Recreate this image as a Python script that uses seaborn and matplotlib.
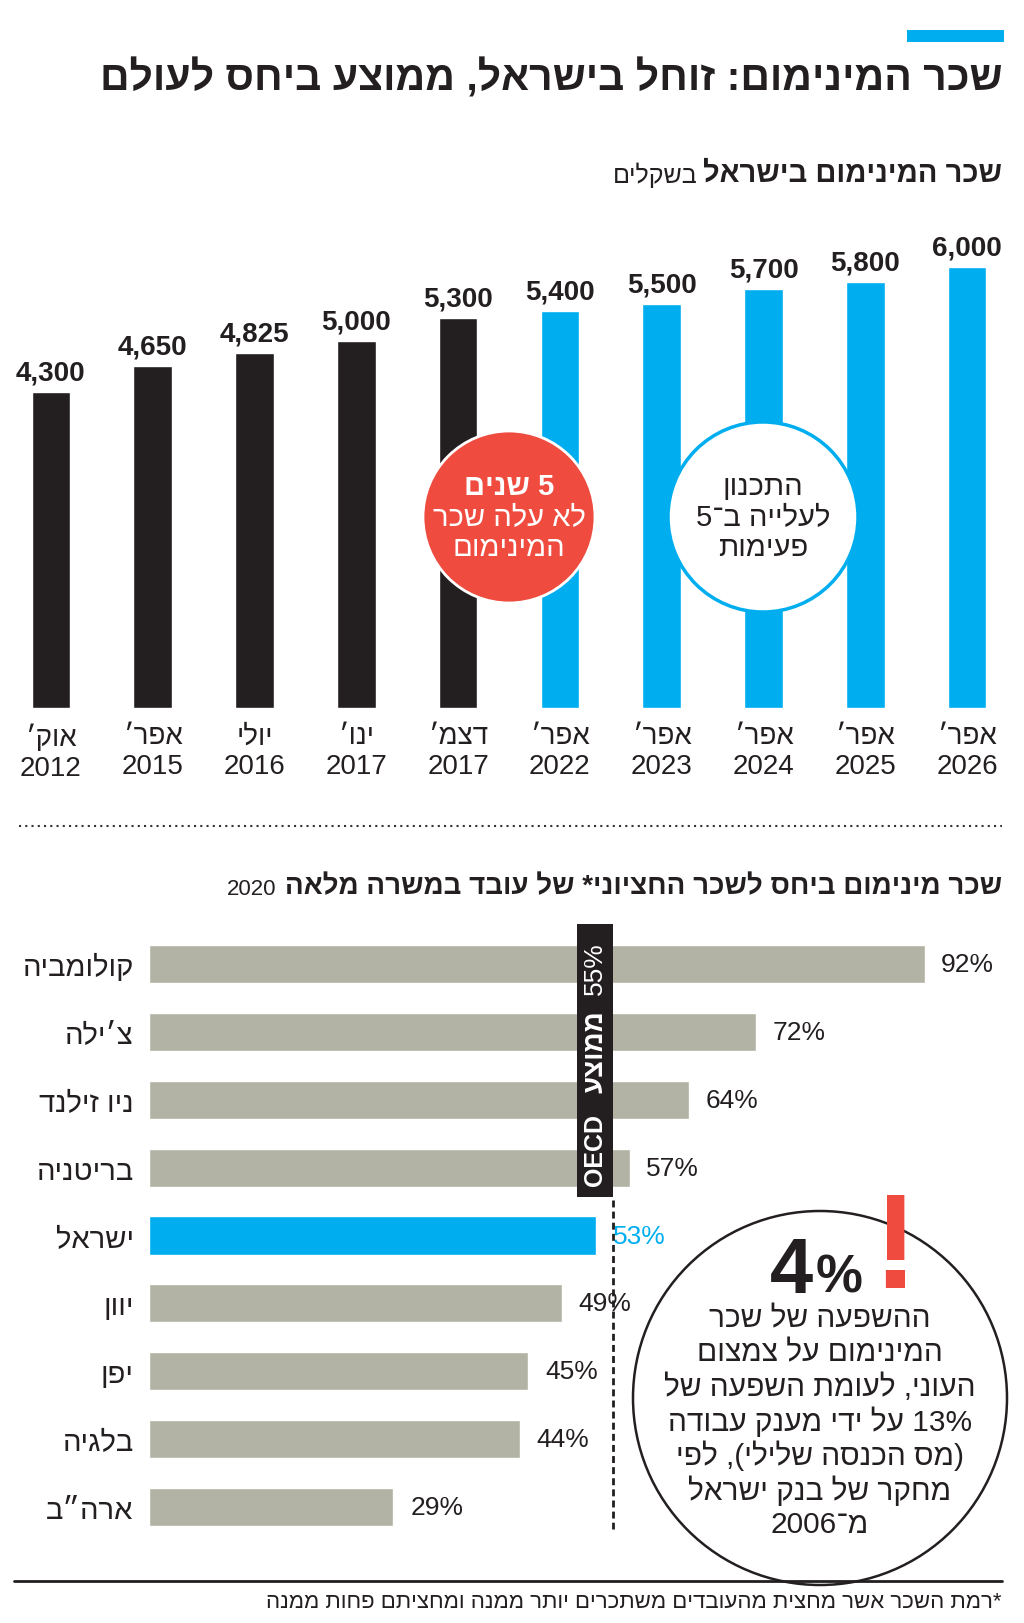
import re
import matplotlib
matplotlib.use("Agg")
import matplotlib.pyplot as plt
from matplotlib.patches import Circle, Rectangle
import pandas as pd
import seaborn as sns

sns.set_theme(style="white")
FONT = ["Liberation Sans Narrow", "Liberation Sans", "DejaVu Sans"]
plt.rcParams["font.family"] = FONT

BLACK = "#231f20"
BLUE = "#00aeef"
RED = "#ef4b3f"
GRAY = "#b2b2a5"

# --- data: minimum wage in Israel (NIS)
months = ["אוק׳", "אפר׳", "יולי", "ינו׳", "דצמ׳", "אפר׳", "אפר׳", "אפר׳", "אפר׳", "אפר׳"]
years = ["2012", "2015", "2016", "2017", "2017", "2022", "2023", "2024", "2025", "2026"]
wages = [4300, 4650, 4825, 5000, 5300, 5400, 5500, 5700, 5800, 6000]
kind = ["past", "past", "past", "past", "past", "plan", "plan", "plan", "plan", "plan"]

# --- data: minimum wage vs median wage, 2020
countries = ["קולומביה", "צ׳ילה", "ניו זילנד", "בריטניה", "ישראל", "יוון", "יפן", "בלגיה", "ארה״ב"]
ratio = [92, 72, 64, 57, 53, 49, 45, 44, 29]
oecd_avg = 55


def heb(s):
    # logical -> visual order for a right-to-left line
    mirror = {"(": ")", ")": "("}
    r = "".join(mirror.get(c, c) for c in s[::-1])
    return re.sub(r"[0-9A-Za-z%][0-9A-Za-z%.,]*", lambda m: m.group(0)[::-1], r)


W, H = 1024, 1624
fig = plt.figure(figsize=(W / 100, H / 100), dpi=100)


def px_axes(x0, y0, x1, y1, **kw):
    return fig.add_axes([x0 / W, 1 - y1 / H, (x1 - x0) / W, (y1 - y0) / H], **kw)


# ---------------- chart 1
ax1 = px_axes(0, 268, 1018, 709)
df1 = pd.DataFrame({"pos": [f"{m} {y}" for m, y in zip(months, years)],
                    "wage": wages, "kind": kind})
sns.barplot(data=df1, x="pos", y="wage", hue="kind", dodge=False, width=0.38,
            palette={"past": BLACK, "plan": BLUE}, legend=False, ax=ax1,
            saturation=1)
ax1.set_xlim(-0.5, 9.5)
ax1.set_ylim(0, 6000)
ax1.set_xlabel("")
ax1.set_ylabel("")
ax1.set_yticks([])
ax1.set_xticks(range(len(months)))
ax1.set_xticklabels([heb(m) + "\n" + y for m, y in zip(months, years)],
                    fontsize=20, color=BLACK, linespacing=1.2)
ax1.tick_params(axis="x", length=0, pad=11)
for p in ax1.patches:
    h = p.get_height()
    if h > 0:
        ax1.annotate(f"{int(h):,}", (p.get_x() + p.get_width() / 2, h),
                     xytext=(0, 9), textcoords="offset points", ha="center",
                     va="baseline", fontsize=20, color=BLACK, fontweight="bold",
                     annotation_clip=False)
sns.despine(ax=ax1, left=True, bottom=True)

# ---------------- chart 2
ax2 = px_axes(149, 931, 992, 1542)
df2 = pd.DataFrame({"country": countries, "ratio": ratio,
                    "is_il": ["il" if c == "ישראל" else "other" for c in countries]})
sns.barplot(data=df2, x="ratio", y="country", hue="is_il", dodge=False, width=0.56,
            palette={"il": BLUE, "other": GRAY}, legend=False, ax=ax2,
            orient="h", saturation=1)
ax2.set_xlim(0, 100)
ax2.set_ylim(len(countries) - 0.5, -0.5)
ax2.set_xlabel("")
ax2.set_ylabel("")
ax2.set_xticks([])
ax2.set_yticks(range(len(countries)))
ax2.set_yticklabels([heb(c) for c in countries], fontsize=21, color=BLACK)
ax2.tick_params(axis="y", length=0, pad=11)
sns.despine(ax=ax2, left=True, bottom=True)
for p in ax2.patches:
    w = p.get_width()
    if w > 0:
        yc = p.get_y() + p.get_height() / 2
        col = BLUE if p.get_facecolor()[2] > 0.8 else BLACK
        ax2.annotate(f"{int(w)}%", (w, yc), xytext=(12, 0), textcoords="offset points",
                     ha="left", va="center", fontsize=19, color=col,
                     annotation_clip=False)

# OECD average marker
ax2.add_patch(Rectangle((oecd_avg - 4.2, -0.59), 4.2, 4.02, fc=BLACK, ec="none",
                        clip_on=False, zorder=4))
bx = oecd_avg - 2.1
ax2.text(bx, 0.05, f"{oecd_avg}%", rotation=90, ha="center", va="center",
         color="white", fontsize=19, zorder=5, clip_on=False)
ax2.text(bx, 1.27, heb("ממוצע"), rotation=90, ha="center", va="center",
         color="white", fontsize=20, fontweight="bold", zorder=5, clip_on=False)
ax2.text(bx, 2.72, "OECD", rotation=90, ha="center", va="center",
         color="white", fontsize=18, fontweight="bold", zorder=5, clip_on=False)
ax2.plot([oecd_avg, oecd_avg], [3.48, 8.32], ls=(0, (2.5, 1.5)), lw=2, color=BLACK,
         clip_on=False, zorder=4)

# ---------------- overlay (titles, bubbles, rules)
ov = fig.add_axes([0, 0, 1, 1], zorder=10)
ov.set_xlim(0, W)
ov.set_ylim(H, 0)
ov.axis("off")
ov.patch.set_alpha(0)

ov.add_patch(Rectangle((907, 31), 97, 12, fc=BLUE, ec="none"))
ov.text(1002, 78, heb("שכר המינימום: זוחל בישראל, ממוצע ביחס לעולם"), ha="right",
        va="center", fontsize=29.5, fontweight="bold", color=BLACK)

t1 = ov.text(1002, 188, heb("שכר המינימום בישראל"), ha="right", va="bottom",
             fontsize=21, fontweight="bold", color=BLACK)
ov.annotate(heb("בשקלים"), xy=(0, 0), xycoords=t1, xytext=(-4, 0),
            textcoords="offset points", ha="right", va="bottom", fontsize=18,
            color=BLACK)

t2 = ov.text(1002, 900, heb("שכר מינימום ביחס לשכר החציוני* של עובד במשרה מלאה"),
             ha="right", va="bottom", fontsize=20, fontweight="bold", color=BLACK)
ov.annotate("2020", xy=(0, 0), xycoords=t2, xytext=(-6, 0),
            textcoords="offset points", ha="right", va="bottom", fontsize=16,
            color=BLACK)

# bubbles on chart 1
ov.add_patch(Circle((509, 518), 86, fc=RED, ec="white", lw=2))
ov.text(509, 487, heb("5 שנים"), ha="center", va="center", fontsize=21,
        fontweight="bold", color="white")
ov.text(509, 518, heb("לא עלה שכר"), ha="center", va="center", fontsize=21,
        color="white")
ov.text(509, 548, heb("המינימום"), ha="center", va="center", fontsize=21,
        color="white")

ov.add_patch(Circle((763, 518), 95, fc="white", ec=BLUE, lw=2.5))
ov.text(763, 487, heb("התכנון"), ha="center", va="center", fontsize=21, color=BLACK)
ov.text(763, 518, heb("לעלייה ב־5"), ha="center", va="center", fontsize=21, color=BLACK)
ov.text(763, 548, heb("פעימות"), ha="center", va="center", fontsize=21, color=BLACK)

# dotted separator
ov.plot([19, 1002], [827, 827], ls=(0, (1, 2)), lw=1.5, color="#333333")

# big bubble
ov.add_patch(Circle((820, 1399), 187, fc="none", ec=BLACK, lw=1.8))
ov.text(813, 1293, "4", ha="right", va="baseline", fontsize=56, fontweight="bold",
        color=BLACK)
ov.text(816, 1293, "%", ha="left", va="baseline", fontsize=38, fontweight="bold",
        color=BLACK)
ov.text(895, 1288, "!", ha="center", va="baseline", fontsize=98, fontweight="bold",
        color=RED)
lines = ["ההשפעה של שכר", "המינימום על צמצום", "העוני, לעומת השפעה של",
         "13% על ידי מענק עבודה", "(מס הכנסה שלילי), לפי", "מחקר של בנק ישראל",
         "מ־2006"]
for i, ln in enumerate(lines):
    ov.text(820, 1319 + i * 34.3, heb(ln), ha="center", va="center", fontsize=21.5,
            color=BLACK)

# footer
ov.plot([14, 1002], [1582, 1582], lw=2, color=BLACK)
ov.text(1002, 1603, heb("*רמת השכר אשר מחצית מהעובדים משתכרים יותר ממנה ומחציתם פחות ממנה"),
        ha="right", va="center", fontsize=16, color=BLACK)

fig.savefig("out.png", dpi=100, facecolor="white")
